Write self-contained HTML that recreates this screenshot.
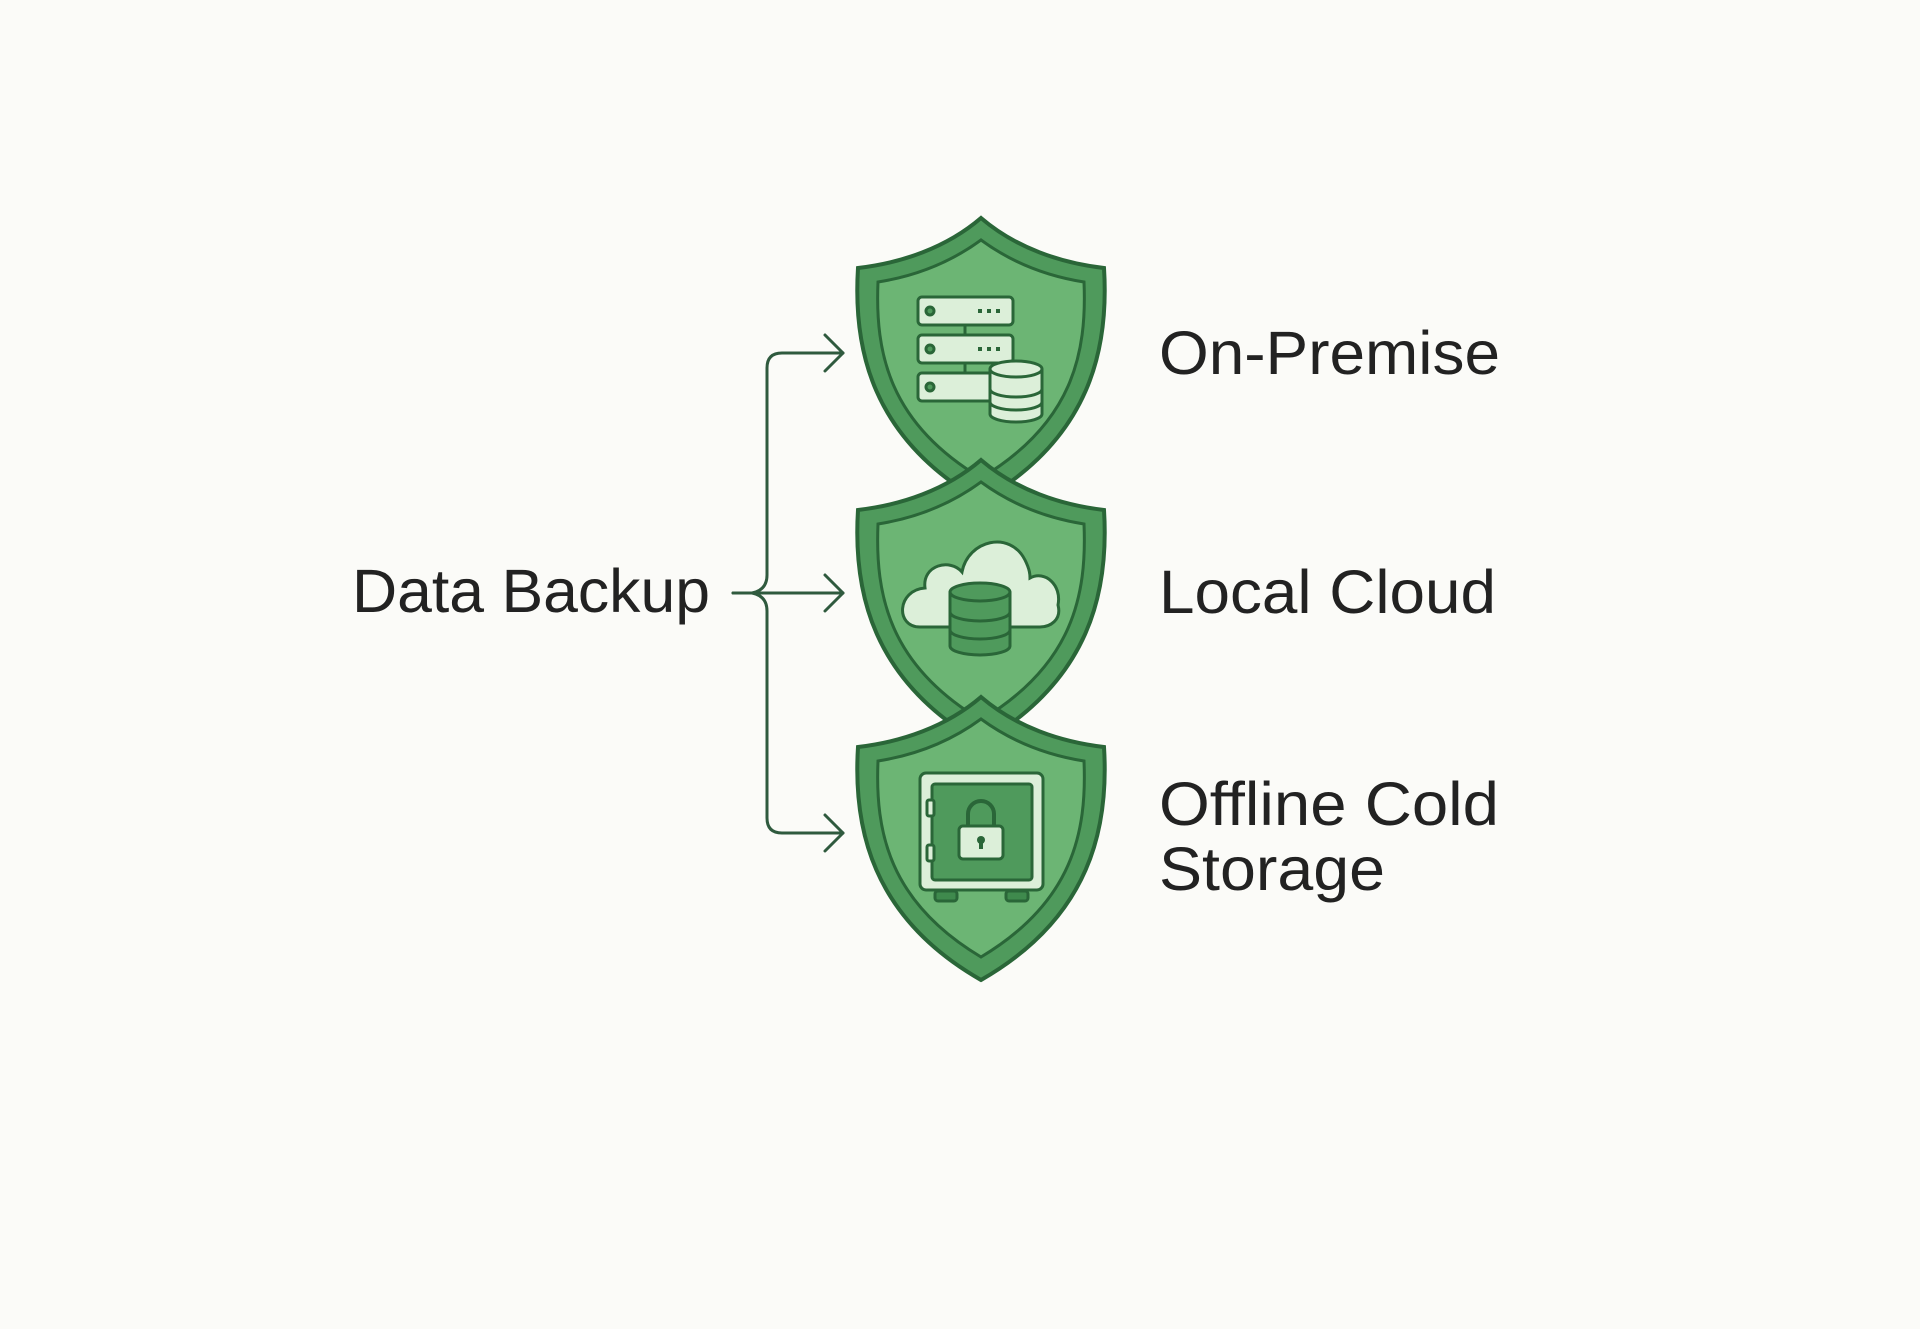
<!DOCTYPE html>
<html><head><meta charset="utf-8"><style>
html,body{margin:0;padding:0;background:#fbfbf8;}
svg{display:block;}
text{font-family:"Liberation Sans",sans-serif;fill:#222;font-size:61px;}
</style></head><body>
<svg width="1920" height="1329" viewBox="0 0 1920 1329" xmlns="http://www.w3.org/2000/svg">
<defs>
<g id="shield">
  <path d="M0,0 C-35,30 -80,45 -123,50 C-128,130 -110,220 0,283 C110,220 128,130 123,50 C80,45 35,30 0,0 Z" fill="#4f9a5c" stroke="#2a6638" stroke-width="4"/>
  <path d="M0,22 C-30,44 -65,58 -103,64 C-106,135 -92,205 0,260 C92,205 106,135 103,64 C65,58 30,44 0,22 Z" fill="#6cb574" stroke="#2a6638" stroke-width="3"/>
</g>
</defs>

<!-- connectors -->
<g fill="none" stroke="#2f5a3e" stroke-width="3" stroke-linecap="round" stroke-linejoin="round">
  <path d="M843,353 H782 Q767,353 767,368 V575 Q767,590 752,593 H733 H752 Q767,596 767,611 V818 Q767,833 782,833 H843"/>
  <path d="M733,593 H843"/>
  <path d="M825,335 L843,353 L825,371"/>
  <path d="M825,575 L843,593 L825,611"/>
  <path d="M825,815 L843,833 L825,851"/>
</g>

<use href="#shield" x="981" y="218"/>
<use href="#shield" x="981" y="460"/>
<use href="#shield" x="981" y="697"/>

<!-- server icon -->
<g stroke="#2a6638" stroke-width="3" fill="#dcefd9">
  <line x1="965" y1="325" x2="965" y2="335"/>
  <line x1="965" y1="363" x2="965" y2="373"/>
  <rect x="918" y="297" width="95" height="28" rx="4"/>
  <rect x="918" y="335" width="95" height="28" rx="4"/>
  <rect x="918" y="373" width="95" height="28" rx="4"/>
  <circle cx="930" cy="311" r="4" fill="#4f9a5c"/>
  <circle cx="930" cy="349" r="4" fill="#4f9a5c"/>
  <circle cx="930" cy="387" r="4" fill="#4f9a5c"/>
</g>
<g fill="#2a6638">
  <rect x="978" y="309" width="4" height="4"/><rect x="987" y="309" width="4" height="4"/><rect x="996" y="309" width="4" height="4"/>
  <rect x="978" y="347" width="4" height="4"/><rect x="987" y="347" width="4" height="4"/><rect x="996" y="347" width="4" height="4"/>
</g>
<g stroke="#2a6638" stroke-width="3" fill="#dcefd9">
  <path d="M990,369 V414 A26,8 0 0 0 1042,414 V369"/>
  <ellipse cx="1016" cy="369" rx="26" ry="8"/>
  <path d="M990,389 A26,8 0 0 0 1042,389" fill="none"/>
  <path d="M990,402 A26,8 0 0 0 1042,402" fill="none"/>
</g>

<!-- cloud icon -->
<g stroke="#2a6638" stroke-width="3">
  <path d="M920,627 C895,627 897,590 925,588 C922,565 950,558 962,572 C968,540 1010,530 1025,560 C1030,570 1030,575 1030,578 C1045,570 1062,585 1058,605 C1062,620 1050,627 1040,627 Z" fill="#dcefd9"/>
  <path d="M950,592 V646 A30,9 0 0 0 1010,646 V592" fill="#4f9a5c"/>
  <ellipse cx="980" cy="592" rx="30" ry="9" fill="#4f9a5c"/>
  <path d="M950,612 A30,9 0 0 0 1010,612" fill="none"/>
  <path d="M950,630 A30,9 0 0 0 1010,630" fill="none"/>
</g>

<!-- safe icon -->
<g stroke="#2a6638" stroke-width="3">
  <rect x="935" y="891" width="22" height="10" rx="3" fill="#3f8a4d"/>
  <rect x="1006" y="891" width="22" height="10" rx="3" fill="#3f8a4d"/>
  <rect x="920" y="773" width="123" height="117" rx="6" fill="#dcefd9"/>
  <rect x="932" y="784" width="100" height="96" rx="3" fill="#4f9a5c"/>
  <rect x="927" y="800" width="7" height="16" rx="2" fill="#dcefd9"/>
  <rect x="927" y="845" width="7" height="16" rx="2" fill="#dcefd9"/>
  <path d="M968,826 V814 A13,13 0 0 1 994,814 V826" fill="none" stroke-width="4"/>
  <rect x="959" y="826" width="44" height="33" rx="4" fill="#dcefd9"/>
</g>
<circle cx="981" cy="840" r="4" fill="#2a6638"/>
<rect x="979" y="840" width="4" height="9" fill="#2a6638"/>

<!-- labels -->
<text x="352" y="612" textLength="358" lengthAdjust="spacingAndGlyphs">Data Backup</text>
<text x="1159" y="374" textLength="341" lengthAdjust="spacingAndGlyphs">On-Premise</text>
<text x="1159" y="613" textLength="337" lengthAdjust="spacingAndGlyphs">Local Cloud</text>
<text x="1159" y="825" textLength="340" lengthAdjust="spacingAndGlyphs">Offline Cold</text>
<text x="1159" y="890" textLength="226" lengthAdjust="spacingAndGlyphs">Storage</text>
</svg>
</body></html>
